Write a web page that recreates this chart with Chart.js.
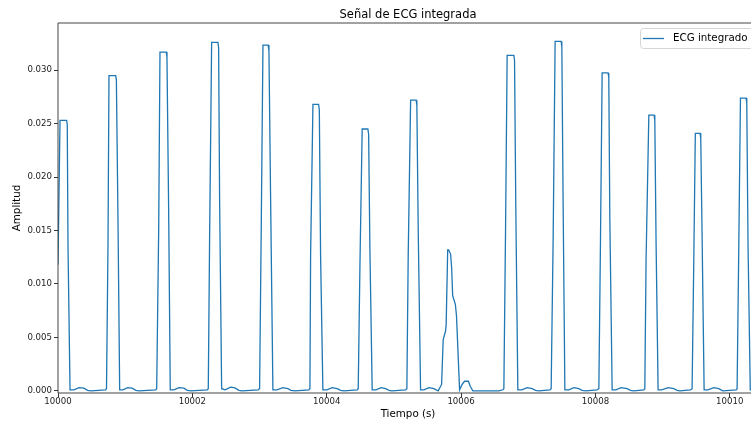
<!DOCTYPE html>
<html lang="es">
<head>
<meta charset="UTF-8">
<title>Señal de ECG integrada</title>
<script src="https://cdn.jsdelivr.net/npm/chart.js"></script>
<style>
  html, body { margin: 0; padding: 0; background: #fff; overflow: hidden; }
  #grafica { display: block; }
</style>
</head>
<body>
<canvas id="grafica" width="758" height="423"></canvas>
<script>
// Tiempo (s) de cada vertice
const tiempo = [
  10000.000, 10000.030, 10000.129, 10000.138, 10000.149, 10000.179,
  10000.238, 10000.313, 10000.387, 10000.439, 10000.491, 10000.707,
  10000.722, 10000.744, 10000.759, 10000.859, 10000.869, 10000.893, 10000.918,
  10000.967, 10001.037, 10001.101, 10001.161, 10001.205, 10001.454,
  10001.469, 10001.499, 10001.518, 10001.612, 10001.622, 10001.647, 10001.671,
  10001.726, 10001.801, 10001.875, 10001.924, 10001.979, 10002.222,
  10002.237, 10002.257, 10002.287, 10002.381, 10002.391, 10002.406, 10002.436,
  10002.485, 10002.570, 10002.634, 10002.693, 10002.738, 10002.981,
  10003.001, 10003.025, 10003.051, 10003.129, 10003.140, 10003.165, 10003.199,
  10003.259, 10003.348, 10003.423, 10003.467, 10003.527, 10003.735,
  10003.750, 10003.760, 10003.795, 10003.879, 10003.890, 10003.909, 10003.943,
  10004.003, 10004.082, 10004.156, 10004.207, 10004.256, 10004.454,
  10004.469, 10004.494, 10004.528, 10004.613, 10004.624, 10004.643, 10004.677,
  10004.732, 10004.811, 10004.876, 10004.926, 10004.970, 10005.174,
  10005.193, 10005.213, 10005.249, 10005.332, 10005.342, 10005.362, 10005.397,
  10005.446, 10005.521, 10005.595, 10005.659,
  10005.710, 10005.734, 10005.769, 10005.778, 10005.801, 10005.815, 10005.844, 10005.860, 10005.875, 10005.915, 10005.932, 10005.978,
  10006.016, 10006.052, 10006.109, 10006.138, 10006.176, 10006.562, 10006.622,
  10006.637, 10006.662, 10006.686, 10006.786, 10006.796, 10006.815, 10006.845,
  10006.905, 10006.984, 10007.058, 10007.109, 10007.158, 10007.321,
  10007.341, 10007.371, 10007.400, 10007.490, 10007.500, 10007.519, 10007.545,
  10007.604, 10007.679, 10007.753, 10007.802, 10007.857, 10008.025,
  10008.051, 10008.076, 10008.100, 10008.189, 10008.199, 10008.214, 10008.249,
  10008.304, 10008.382, 10008.472, 10008.522, 10008.571, 10008.720,
  10008.735, 10008.754, 10008.795, 10008.874, 10008.884, 10008.903, 10008.933,
  10008.988, 10009.082, 10009.167, 10009.216, 10009.256, 10009.415,
  10009.439, 10009.464, 10009.487, 10009.558, 10009.568, 10009.588, 10009.618,
  10009.673, 10009.762, 10009.836, 10009.896, 10010.094,
  10010.109, 10010.134, 10010.159, 10010.243, 10010.253, 10010.272, 10010.305,
  10010.360, 10010.420
];

// Amplitud en cada vertice
const amplitud = [
  0.0118, 0.0253, 0.0253, 0.0249, 0.0135, 0.0001,
  0.0001, 0.0003, 0.00025, 0.00005, 0.0000, 0.0001,
  0.0002, 0.0135, 0.0295, 0.0295, 0.0291, 0.0160, 0.0001,
  0.0001, 0.0003, 0.00025, 0.00005, 0.0000, 0.0001,
  0.0002, 0.0152, 0.0317, 0.0317, 0.0312, 0.0170, 0.0001,
  0.0001, 0.0003, 0.00025, 0.00005, 0.0000, 0.0001,
  0.0002, 0.0145, 0.0326, 0.0326, 0.0321, 0.0176, 0.0002,
  0.0001, 0.00035, 0.00028, 0.00005, 0.0000, 0.0001,
  0.0002, 0.0150, 0.03235, 0.03235, 0.0318, 0.0179, 0.0001,
  0.0001, 0.0003, 0.0002, 0.00005, 0.0000, 0.0001,
  0.0002, 0.0126, 0.0268, 0.0268, 0.0263, 0.0126, 0.0001,
  0.0001, 0.0003, 0.0002, 0.00005, 0.0000, 0.0001,
  0.0002, 0.0115, 0.0245, 0.0245, 0.0240, 0.0132, 0.0001,
  0.0001, 0.0003, 0.0002, 0.00005, 0.0000, 0.0001,
  0.0002, 0.0126, 0.0272, 0.0272, 0.0267, 0.0151, 0.0001,
  0.0001, 0.0003, 0.0002, 0.0000,
  0.0006, 0.0048, 0.0056, 0.0062, 0.0132, 0.0132, 0.0128, 0.0115, 0.0089, 0.0081, 0.0070, 0.0001,
  0.0006, 0.0009, 0.0009, 0.0004, 0.0000, 0.0000, 0.0001,
  0.0002, 0.0150, 0.0314, 0.0314, 0.0309, 0.0170, 0.0001,
  0.0001, 0.0003, 0.0002, 0.00005, 0.0000, 0.0001,
  0.0002, 0.0144, 0.0327, 0.0327, 0.0322, 0.0176, 0.0001,
  0.0001, 0.0003, 0.0002, 0.00005, 0.0000, 0.0001,
  0.0002, 0.0145, 0.02975, 0.02975, 0.0293, 0.0163, 0.0001,
  0.0001, 0.0003, 0.0002, 0.00005, 0.0000, 0.0001,
  0.0002, 0.0123, 0.0258, 0.0258, 0.0253, 0.0138, 0.0001,
  0.0001, 0.0003, 0.0002, 0.00005, 0.0000, 0.0001,
  0.0002, 0.0121, 0.0241, 0.0241, 0.0236, 0.0144, 0.0001,
  0.0001, 0.0003, 0.0002, 0.0000, 0.0001,
  0.0002, 0.0135, 0.0274, 0.0274, 0.0269, 0.0135, 0.0001,
  0.0001, 0.0002
];

const ticksX = [10000, 10002, 10004, 10006, 10008, 10010];
const ticksY = [0.000, 0.005, 0.010, 0.015, 0.020, 0.025, 0.030];

const titulo = 'Señal de ECG integrada';
const nombreSerie = 'ECG integrado';
const azul = '#1f77b4';
const fuente = 'DejaVu Sans';

// ejes, titulo y leyenda al estilo matplotlib
const marco = {
  id: 'marco',
  afterDraw(chart) {
    const { ctx, chartArea: a } = chart;
    ctx.save();
    ctx.strokeStyle = '#444';
    ctx.lineWidth = 1;
    ctx.beginPath();
    ctx.moveTo(a.right, a.top);
    ctx.lineTo(a.left, a.top);
    ctx.lineTo(a.left, a.bottom);
    ctx.lineTo(a.right, a.bottom);
    ctx.stroke();

    ctx.fillStyle = '#000';
    ctx.font = '11.5px "' + fuente + '"';
    ctx.textAlign = 'center';
    ctx.textBaseline = 'middle';
    ctx.fillText(titulo, (a.left + a.right) / 2, 15);

    // leyenda
    const x0 = 640, y0 = 28.5, w = 113, h = 20, r = 3;
    ctx.beginPath();
    ctx.roundRect(x0 + 0.5, y0, w, h, r);
    ctx.fillStyle = 'rgba(255,255,255,0.8)';
    ctx.fill();
    ctx.strokeStyle = '#d6d6d6';
    ctx.stroke();
    ctx.strokeStyle = azul;
    ctx.lineWidth = 1.3;
    ctx.beginPath();
    ctx.moveTo(643, 38.5);
    ctx.lineTo(664, 38.5);
    ctx.stroke();
    ctx.fillStyle = '#000';
    ctx.font = '10.3px "' + fuente + '"';
    ctx.textAlign = 'left';
    ctx.fillText(nombreSerie, 673, 38.5);
    ctx.restore();
  }
};

const puntos = tiempo.map((t, i) => ({ x: t, y: amplitud[i] }));

new Chart(document.getElementById('grafica'), {
  type: 'line',
  data: {
    datasets: [{
      label: nombreSerie,
      data: puntos,
      borderColor: azul,
      borderWidth: 1.3,
      pointRadius: 0,
      tension: 0,
      fill: false
    }]
  },
  options: {
    responsive: false,
    animation: false,
    devicePixelRatio: 1,
    layout: { padding: { top: 23, right: 0, left: 0, bottom: 0 } },
    plugins: {
      legend: { display: false },
      title: { display: false },
      tooltip: { enabled: false }
    },
    scales: {
      x: {
        type: 'linear',
        min: 10000,
        max: 10010.42,
        afterFit: s => { s.height = 30; },
        afterBuildTicks: s => { s.ticks = ticksX.map(v => ({ value: v })); },
        border: { display: false },
        grid: { drawOnChartArea: false, tickLength: 4, tickColor: '#333' },
        ticks: {
          padding: 0,
          color: '#222',
          font: { family: fuente, size: 8.6 },
          maxRotation: 0,
          callback: v => String(v)
        },
        title: {
          display: true,
          text: 'Tiempo (s)',
          color: '#000',
          font: { family: fuente, size: 10.3 },
          padding: { top: 0, bottom: 2.5 }
        }
      },
      y: {
        min: -0.0002,
        max: 0.03442,
        afterFit: s => { s.width = 58; },
        afterBuildTicks: s => { s.ticks = ticksY.map(v => ({ value: v })); },
        border: { display: false },
        grid: { drawOnChartArea: false, tickLength: 4, tickColor: '#333' },
        ticks: {
          padding: 2,
          color: '#222',
          font: { family: fuente, size: 8.6 },
          callback: v => v.toFixed(3)
        },
        title: {
          display: true,
          text: 'Amplitud',
          color: '#000',
          font: { family: fuente, size: 10.3 },
          padding: { top: 11.5, bottom: 0 }
        }
      }
    }
  },
  plugins: [marco]
});
</script>
</body>
</html>
